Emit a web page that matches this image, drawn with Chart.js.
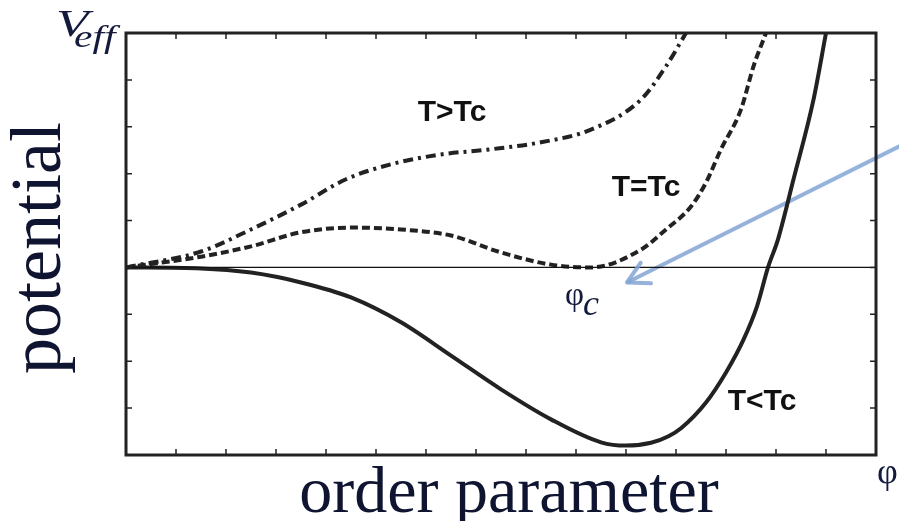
<!DOCTYPE html>
<html>
<head>
<meta charset="utf-8">
<script src="https://cdn.jsdelivr.net/npm/chart.js@4.4.0/dist/chart.umd.min.js"></script>
<style>
  html, body { margin: 0; padding: 0; background: #fff; }
  #wrap { width: 899px; height: 521px; }
</style>
</head>
<body>
<div id="wrap"><canvas id="potChart" width="899" height="521"></canvas></div>
<script>
// tick positions (no labels drawn on this figure)
const xTicks = [0, 1, 2, 3, 4, 5, 6, 7, 8, 9, 10, 11, 12, 13, 14, 15];
const yTicks = [-4, -3, -2, -1, 0, 1, 2, 3, 4, 5];

// T < Tc (solid)
const belowX = [0, 1.5, 2.5, 3.5, 4.5, 5.5, 6.5, 7.5, 8.5, 9.5, 10, 10.5, 10.85, 11.1, 11.6, 12, 12.35, 12.62, 12.84, 13.04, 13.35, 13.75, 14];
const belowY = [0, -0.02, -0.11, -0.32, -0.64, -1.17, -1.88, -2.6, -3.24, -3.73, -3.8, -3.74, -3.6, -3.43, -2.88, -2.24, -1.54, -0.83, 0, 0.6, 1.88, 3.58, 5];

// T = Tc (dashed)
const critX = [0, 1.5, 2.5, 3.5, 4.5, 5.5, 6.5, 7.5, 8.5, 9.3, 10.3, 10.8, 11.3, 11.6, 11.9, 12.3, 12.55, 12.8];
const critY = [0, 0.23, 0.45, 0.75, 0.85, 0.81, 0.68, 0.32, 0.06, 0, 0.38, 0.81, 1.3, 1.81, 2.52, 3.37, 4.29, 5];

// T > Tc (dash-dot)
const aboveX = [0, 1.5, 2.5, 3.5, 4.4, 5.3, 6.3, 7.3, 8.3, 9.3, 10.3, 10.8, 11.2];
const aboveY = [0, 0.34, 0.81, 1.34, 1.88, 2.2, 2.41, 2.52, 2.67, 2.94, 3.58, 4.29, 5];

// zero line and the pointer arrow to phi_c
const zeroX = [0, 15];
const zeroY = [0, 0];
const arrowX = [15.5, 10.02];
const arrowY = [2.6, -0.32];

function pts(xs, ys) {
  return xs.map((x, i) => ({ x: x, y: ys[i] }));
}

const ink = '#222';
const arrowColor = 'rgba(130,165,212,0.85)';

// draw text squeezed/stretched horizontally
function wideText(ctx, txt, x, y, sx) {
  ctx.save();
  ctx.translate(x, y);
  ctx.scale(sx, 1);
  ctx.fillText(txt, 0, 0);
  const w = ctx.measureText(txt).width * sx;
  ctx.restore();
  return w;
}

// frame, inward ticks, labels and arrow head
const decorPlugin = {
  id: 'decor',
  afterDatasetsDraw(chart) {
    const { ctx, chartArea: a, scales } = chart;
    const xs = scales.x, ys = scales.y;
    ctx.save();

    // ticks
    ctx.strokeStyle = ink;
    ctx.lineWidth = 1.5;
    ctx.beginPath();
    xTicks.forEach(v => {
      const px = xs.getPixelForValue(v);
      ctx.moveTo(px, a.bottom); ctx.lineTo(px, a.bottom - 6);
      ctx.moveTo(px, a.top); ctx.lineTo(px, a.top + 6);
    });
    yTicks.forEach(v => {
      const py = ys.getPixelForValue(v);
      ctx.moveTo(a.left, py); ctx.lineTo(a.left + 6, py);
      ctx.moveTo(a.right, py); ctx.lineTo(a.right - 6, py);
    });
    ctx.stroke();

    // frame
    ctx.lineWidth = 3;
    ctx.strokeRect(a.left, a.top, a.right - a.left, a.bottom - a.top);

    // arrow head
    const meta = chart.getDatasetMeta(4);
    const p0 = meta.data[0], p1 = meta.data[1];
    const ang = Math.atan2(p1.y - p0.y, p1.x - p0.x);
    ctx.strokeStyle = arrowColor;
    ctx.lineWidth = 4;
    ctx.lineCap = 'round';
    ctx.beginPath();
    [0.5, -0.5].forEach(d => {
      ctx.moveTo(p1.x, p1.y);
      ctx.lineTo(p1.x - 24 * Math.cos(ang + d), p1.y - 24 * Math.sin(ang + d));
    });
    ctx.stroke();

    // curve labels
    ctx.fillStyle = '#111';
    ctx.textAlign = 'center';
    ctx.textBaseline = 'middle';
    ctx.font = 'bold 30px "Liberation Sans", Arial, sans-serif';
    ctx.fillText('T>Tc', xs.getPixelForValue(6.52), ys.getPixelForValue(3.3));
    ctx.fillText('T=Tc', xs.getPixelForValue(10.4), ys.getPixelForValue(1.71));
    ctx.fillText('T<Tc', xs.getPixelForValue(12.72), ys.getPixelForValue(-2.86));

    // phi_c
    ctx.fillStyle = '#141a3c';
    ctx.textAlign = 'left';
    ctx.textBaseline = 'alphabetic';
    const fx = xs.getPixelForValue(8.78), fy = ys.getPixelForValue(-0.8);
    ctx.font = '33px "Liberation Serif", serif';
    ctx.fillText('φ', fx, fy);
    const fw = ctx.measureText('φ').width;
    ctx.font = 'italic 36px "Liberation Serif", serif';
    ctx.fillText('c', fx + fw - 1, fy + 10);

    // V_eff
    ctx.font = 'italic 38px "Liberation Serif", serif';
    wideText(ctx, 'V', a.left - 70, a.top + 3, 1.4);
    ctx.font = 'italic 32px "Liberation Serif", serif';
    wideText(ctx, 'eff', a.left - 52, a.top + 14, 1.3);

    // phi at end of x axis
    ctx.font = '36px "Liberation Serif", serif';
    ctx.fillText('φ', a.right + 1, a.bottom + 28);

    // axis titles
    ctx.fillStyle = '#0f1430';
    ctx.font = '66px "Liberation Serif", serif';
    ctx.textAlign = 'center';
    ctx.fillText('order parameter', 509, 512);

    ctx.save();
    ctx.translate(60, 248);
    ctx.rotate(-Math.PI / 2);
    ctx.font = '72px "Liberation Serif", serif';
    ctx.fillText('potential', 0, 0);
    ctx.restore();

    ctx.restore();
  }
};

new Chart(document.getElementById('potChart').getContext('2d'), {
  type: 'line',
  data: {
    datasets: [
      {
        label: 'zero',
        data: pts(zeroX, zeroY),
        borderColor: '#111',
        borderWidth: 1.2,
        pointRadius: 0
      },
      {
        label: 'T<Tc',
        data: pts(belowX, belowY),
        borderColor: ink,
        borderWidth: 4,
        pointRadius: 0,
        cubicInterpolationMode: 'monotone'
      },
      {
        label: 'T=Tc',
        data: pts(critX, critY),
        borderColor: ink,
        borderWidth: 4,
        borderDash: [8, 4],
        pointRadius: 0,
        cubicInterpolationMode: 'monotone'
      },
      {
        label: 'T>Tc',
        data: pts(aboveX, aboveY),
        borderColor: ink,
        borderWidth: 4,
        borderDash: [10, 5, 3, 5],
        pointRadius: 0,
        cubicInterpolationMode: 'monotone'
      },
      {
        label: 'arrow',
        data: pts(arrowX, arrowY),
        borderColor: arrowColor,
        borderWidth: 4,
        pointRadius: 0,
        clip: false
      }
    ]
  },
  options: {
    responsive: false,
    animation: false,
    events: [],
    layout: { padding: { left: 126, right: 23, top: 33, bottom: 66 } },
    scales: {
      x: { type: 'linear', min: 0, max: 15, display: false },
      y: { type: 'linear', min: -4, max: 5, display: false }
    },
    plugins: {
      legend: { display: false },
      tooltip: { enabled: false }
    }
  },
  plugins: [decorPlugin]
});
</script>
</body>
</html>
